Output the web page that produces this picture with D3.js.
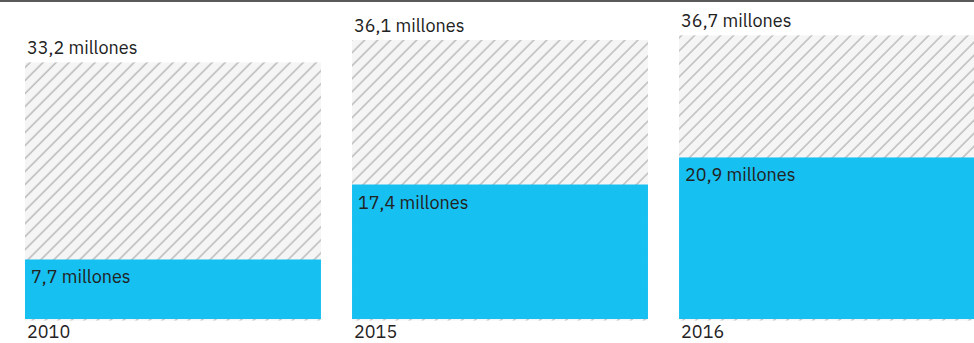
<!DOCTYPE html>
<html>
<head>
<meta charset="utf-8">
<script src="https://cdn.jsdelivr.net/npm/d3@7"></script>
<style>
  html, body { margin: 0; padding: 0; background: #fff; }
  svg { display: block; }
  text { font-family: "IBM Plex Sans", Inter, "Noto Sans", sans-serif; fill: #222; }
</style>
</head>
<body>
<svg id="chart"></svg>
<script>
// poblacion total vs. con acceso (millones)
const years = ["2010", "2015", "2016"];
const totals = [33.2, 36.1, 36.7];
const partial = [7.7, 17.4, 20.9];

const width = 974
const height = 343
const base = 319

const es = d3.formatLocale({decimal: ",", thousands: ".", grouping: [3], currency: ["", " €"]});
const fmt = es.format(".1f");

const rows = years.map((y, i) => ({year: y, total: totals[i], part: partial[i]}));

let svg = d3.select("#chart")
    .attr("width", width)
    .attr("height", height);

// top rule
svg.append("line")
    .attr("x1", 0).attr("x2", width)
    .attr("y1", 1).attr("y2", 1)
    .attr("stroke", "#5a5a5a")
    .attr("stroke-width", 2);

// hatch pattern
const pat = svg.append("defs").append("pattern")
    .attr("id", "hatch")
    .attr("patternUnits", "userSpaceOnUse")
    .attr("width", 9.2)
    .attr("height", 9.2)
    .attr("patternTransform", "rotate(45)");
pat.append("rect")
    .attr("width", 9.2).attr("height", 9.2)
    .attr("fill", "#f5f5f5");
pat.append("line")
    .attr("x1", 1).attr("x2", 1)
    .attr("y1", 0).attr("y2", 9.2)
    .attr("stroke", "#adadad")
    .attr("stroke-width", 1.2);

let xScale = d3.scaleBand().domain(years).range([25, 975]).paddingInner(0.095).paddingOuter(0)
let yScale = d3.scaleLinear().domain([0, 37]).range([base, 33])

let gs = svg.selectAll(".bar")
    .data(rows)
    .join("g")
    .classed("bar", true);

gs.append("rect")
    .attr("x", d => xScale(d.year))
    .attr("y", d => yScale(d.total))
    .attr("width", xScale.bandwidth())
    .attr("height", d => yScale(0) - yScale(d.total) + 1.5)
    .attr("fill", "url(#hatch)");

gs.append("rect")
    .attr("x", d => xScale(d.year))
    .attr("y", d => yScale(d.part))
    .attr("width", xScale.bandwidth())
    .attr("height", d => yScale(0) - yScale(d.part))
    .attr("fill", "#16c0f1");

gs.append("text")
    .text(d => fmt(d.total) + " millones")
    .attr("x", d => xScale(d.year) + 2)
    .attr("y", d => yScale(d.total) - 8)
    .attr("font-size", 18);

gs.append("text")
    .text(d => fmt(d.part) + " millones")
    .attr("x", d => xScale(d.year) + 6)
    .attr("y", d => yScale(d.part) + 24)
    .attr("font-size", 18);

gs.append("text")
    .text(d => d.year)
    .attr("x", d => xScale(d.year) + 2)
    .attr("y", base + 19)
    .attr("font-size", 18);
</script>
</body>
</html>
